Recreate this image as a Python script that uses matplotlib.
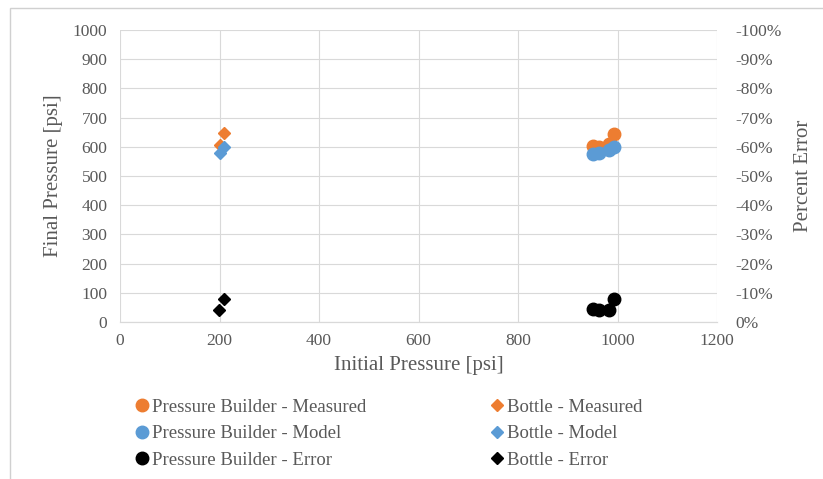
import matplotlib
matplotlib.use("Agg")
import matplotlib.pyplot as plt
from matplotlib.patches import Rectangle
from matplotlib.ticker import FuncFormatter

plt.rcParams['font.family'] = ['Liberation Serif', 'DejaVu Serif']

# --- Data ---
pb_initial = [950, 962, 982, 993]
pb_measured = [603, 598, 608, 645]
pb_model = [575, 578, 588, 600]
pb_error = [-0.045, -0.040, -0.040, -0.080]

bottle_initial = [200, 210]
bottle_measured = [605, 648]
bottle_model = [580, 600]
bottle_error = [-0.040, -0.080]

orange = '#ED7D31'
blue = '#5B9BD5'
grey_text = '#595959'
grid_col = '#D9D9D9'

fig = plt.figure(figsize=(8.23, 4.79), dpi=100)
ax = fig.add_axes([120/823, 1 - 322/479, (717-120)/823, (322-30)/479])
ax2 = ax.twinx()

# chart area border
fig.patches.append(Rectangle((10/823, -0.1), 1.2, 1 - 8/479 + 0.1, transform=fig.transFigure,
                             fill=False, edgecolor='#D0D0D0', linewidth=1.0))

h1, = ax.plot(pb_initial, pb_measured, 'o', color=orange, markersize=9, label='Pressure Builder - Measured')
h2, = ax.plot(pb_initial, pb_model, 'o', color=blue, markersize=9, label='Pressure Builder - Model')
h4, = ax.plot(bottle_initial, bottle_measured, 'D', color=orange, markersize=6.5, label='Bottle - Measured')
h5, = ax.plot(bottle_initial, bottle_model, 'D', color=blue, markersize=6.5, label='Bottle - Model')
h3, = ax2.plot(pb_initial, pb_error, 'o', color='black', markersize=9, label='Pressure Builder - Error')
h6, = ax2.plot(bottle_initial, bottle_error, 'D', color='black', markersize=6.5, label='Bottle - Error')

# --- Axes formatting ---
ax.set_xlim(0, 1200)
ax.set_ylim(0, 1000)
ax.set_xticks(range(0, 1201, 200))
ax.set_yticks(range(0, 1001, 100))
ax2.set_ylim(0, -1.0)
ax2.set_yticks([-i / 10 for i in range(0, 11)])
ax2.yaxis.set_major_formatter(FuncFormatter(lambda v, p: '{:.0f}%'.format(v * 100) if v != 0 else '0%'))

ax.grid(True, color=grid_col, linewidth=0.8)
ax.set_axisbelow(True)
for a in (ax, ax2):
    for s in ('top', 'left', 'right'):
        a.spines[s].set_visible(False)
    a.spines['bottom'].set_color(grid_col)
    a.tick_params(length=0, labelsize=12.5, colors=grey_text)
ax.tick_params(axis='y', pad=9)
ax2.tick_params(axis='y', pad=13)
ax.tick_params(axis='x', pad=8)

ax.set_xlabel('Initial Pressure [psi]', fontsize=15, color=grey_text, labelpad=5)
ax.set_ylabel('Final Pressure [psi]', fontsize=15, color=grey_text, labelpad=7)
ax2.set_ylabel('Percent Error', fontsize=15, color=grey_text, labelpad=9)

# --- Legend in two columns under the plot ---
leg_kw = dict(frameon=False, fontsize=13.5, labelspacing=0.5, handletextpad=0.05,
              handlelength=1.0, labelcolor=grey_text, borderaxespad=0)
fig.legend(handles=[h1, h2, h3], loc='upper left', bbox_to_anchor=(125/823, 1 - 391/479), **leg_kw)
fig.legend(handles=[h4, h5, h6], loc='upper left', bbox_to_anchor=(480/823, 1 - 391/479), **leg_kw)

fig.savefig('out.png', dpi=100)
